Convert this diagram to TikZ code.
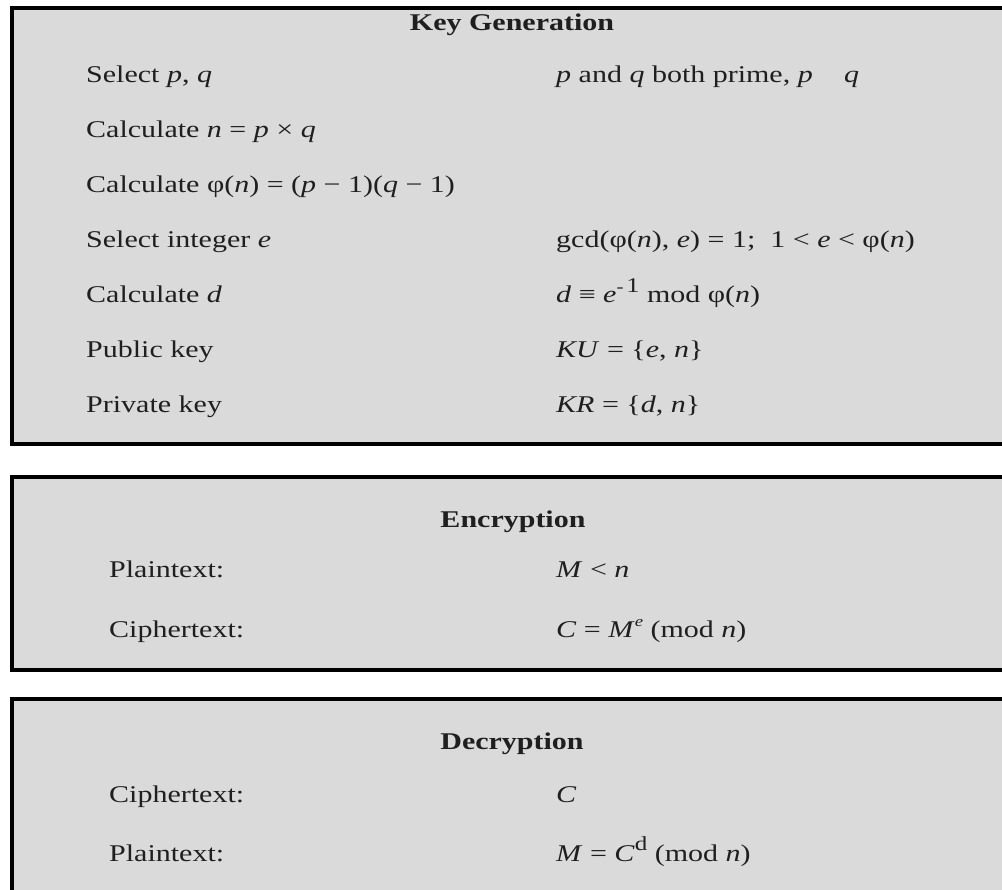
\documentclass[tikz,border=0pt]{standalone}
\usepackage{fontspec}
\setmainfont[FakeStretch=1.25]{Liberation Serif}
\usepackage{tikz}
\usetikzlibrary{calc}

\definecolor{panel}{gray}{0.855}
\definecolor{ink}{gray}{0.12}
\newcommand{\raised}[2][17]{\raisebox{.42em}{\fontsize{#1}{#1}\selectfont #2}}

\begin{document}
\begin{tikzpicture}[x=1pt,y=-1pt]
\tikzstyle{panelbox} = [draw=black,fill=panel,line width=4pt]
\tikzstyle{row} = [anchor=base west,inner sep=0pt,text=ink,font=\fontsize{24}{28}\selectfont]
\tikzstyle{title} = [anchor=base,inner sep=0pt,text=ink,font=\fontsize{24}{28}\selectfont\bfseries]

\clip (0,0) rectangle (1002,890);
\fill[white] (0,0) rectangle (1002,890);

\draw[panelbox] (12,8) rectangle (1012,444);
\draw[panelbox] (12,477) rectangle (1012,670);
\draw[panelbox] (12,699) rectangle (1012,930);

\coordinate (rc) at (556,0);

\node[title] (kg) at (512,31) {Key Generation};
\node[row] (kg1) at (86,83) {Select \textit{p}, \textit{q}};
\node[row] (kg2) at ([yshift=-55pt]kg1.base west) {Calculate \textit{n} = \textit{p} × \textit{q}};
\node[row] (kg3) at ([yshift=-55pt]kg2.base west) {Calculate φ(\textit{n}) = (\textit{p} − 1)(\textit{q} − 1)};
\node[row] (kg4) at ([yshift=-55pt]kg3.base west) {Select integer \textit{e}};
\node[row] (kg5) at ([yshift=-55pt]kg4.base west) {Calculate \textit{d}};
\node[row] (kg6) at ([yshift=-55pt]kg5.base west) {Public key};
\node[row] (kg7) at ([yshift=-55pt]kg6.base west) {Private key};

\node[row] (kgr1) at (kg1.base -| rc) {\textit{p} and \textit{q} both prime, \textit{p}\hspace{1.3em}\textit{q}};
\node[row] (kgr4) at (kg4.base -| rc) {gcd(φ(\textit{n}), \textit{e}) = 1;\ \ 1 < \textit{e} < φ(\textit{n})};
\node[row] (kgr5) at (kg5.base -| rc) {\textit{d} ≡ \textit{e}\raised{-\,\fontsize{21}{21}\selectfont 1} mod φ(\textit{n})};
\node[row] (kgr6) at (kg6.base -| rc) {\textit{KU} = \{\textit{e}, \textit{n}\}};
\node[row] (kgr7) at (kg7.base -| rc) {\textit{KR} = \{\textit{d}, \textit{n}\}};

\node[title] (en) at (513,527) {Encryption};
\node[row] (en1) at (109,577) {Plaintext:};
\node[row] (en2) at ([yshift=-60pt]en1.base west) {Ciphertext:};
\node[row] (enr1) at (en1.base -| rc) {\textit{M} < \textit{n}};
\node[row] (enr2) at (en2.base -| rc) {\textit{C} = \textit{M}\raised[15]{\textit{e}} (mod \textit{n})};

\node[title] (de) at (512,749) {Decryption};
\node[row] (de1) at (109,802) {Ciphertext:};
\node[row] (de2) at ([yshift=-59pt]de1.base west) {Plaintext:};
\node[row] (der1) at (de1.base -| rc) {\textit{C}};
\node[row] (der2) at (de2.base -| rc) {\textit{M} = \textit{C}\raised[20]{d} (mod \textit{n})};
\end{tikzpicture}
\end{document}
